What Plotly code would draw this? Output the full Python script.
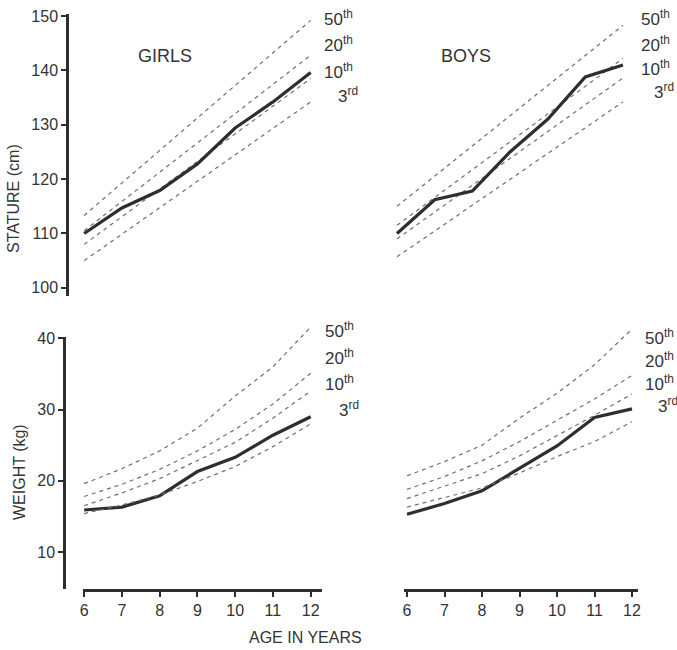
import plotly.graph_objects as go

W, H = 677, 650

# ---------------- data ----------------
ages = [6, 7, 8, 9, 10, 11, 12]
line_ages = [6, 12]

girls_stature = [110.0, 114.7, 117.9, 122.8, 129.4, 134.2, 139.6]
boys_stature = [110.0, 116.2, 117.8, 125.0, 131.0, 138.8, 141.0]

girls_stature_pct = {
    "50th": [113.3, 149.2],
    "20th": [110.5, 142.8],
    "10th": [108.0, 138.5],
    "3rd": [105.0, 134.2],
}
boys_stature_pct = {
    "50th": [115.0, 148.3],
    "20th": [111.5, 142.2],
    "10th": [109.0, 138.6],
    "3rd": [105.7, 134.2],
}

girls_weight = [15.9, 16.3, 17.9, 21.3, 23.3, 26.4, 29.0]
boys_weight = [15.3, 16.8, 18.6, 21.8, 24.9, 28.9, 30.1]

girls_weight_pct = {
    "50th": [19.6, 21.7, 24.2, 27.4, 31.9, 36.0, 41.6],
    "20th": [17.8, 19.5, 21.6, 24.2, 27.2, 30.8, 35.1],
    "10th": [16.5, 18.3, 20.3, 22.8, 25.4, 28.8, 32.6],
    "3rd": [15.4, 16.6, 18.0, 19.9, 22.0, 24.8, 28.0],
}
boys_weight_pct = {
    "50th": [20.7, 22.7, 25.0, 28.8, 32.3, 36.3, 41.3],
    "20th": [18.8, 20.6, 22.8, 25.5, 28.5, 31.5, 34.8],
    "10th": [17.5, 19.2, 21.0, 23.5, 26.3, 29.2, 32.2],
    "3rd": [16.3, 17.6, 19.0, 21.1, 23.4, 25.5, 28.3],
}

stature_ticks = [100, 110, 120, 130, 140, 150]
weight_ticks = [10, 20, 30, 40]
age_ticks = [6, 7, 8, 9, 10, 11, 12]
pct_labels = ["50<sup>th</sup>", "20<sup>th</sup>", "10<sup>th</sup>", "3<sup>rd</sup>"]

# ---------------- style ----------------
FONT = "Liberation Sans, Arial, sans-serif"
TXT = "#333333"
SOLID = "#2e2e2e"
DASH = "#707070"


def px(x):
    return x / W


def py(y):
    return 1 - y / H


fig = go.Figure()


def add_pct(xa, ya, pct, xs_pct):
    for name, vals in pct.items():
        fig.add_trace(go.Scatter(x=xs_pct, y=vals, mode="lines", xaxis=xa, yaxis=ya,
                                 line=dict(color=DASH, width=1.2, dash="4px,4px"),
                                 hoverinfo="skip", showlegend=False))


def add_meas(xa, ya, meas):
    fig.add_trace(go.Scatter(x=ages, y=meas, mode="lines", xaxis=xa, yaxis=ya,
                             line=dict(color=SOLID, width=3.2), showlegend=False))


add_pct("x", "y", girls_stature_pct, line_ages)
add_meas("x", "y", girls_stature)
add_pct("x2", "y2", boys_stature_pct, line_ages)
add_meas("x2", "y2", boys_stature)
# weight percentile curves go on taller hidden axes (same scale) so they can pass above 40 kg
add_pct("x5", "y5", girls_weight_pct, ages)
add_meas("x3", "y3", girls_weight)
add_pct("x6", "y6", boys_weight_pct, ages)
add_meas("x4", "y4", boys_weight)

top_dom = [py(296), py(14.4)]
BOT_Y0, BOT_Y1, BOT_YT = 589, 337, 316
w_lo, w_hi = 4.8, 40.2
bot_dom = [py(BOT_Y0), py(BOT_Y1)]
ext_dom = [py(BOT_Y0), py(BOT_YT)]
w_hi_ext = w_lo + (w_hi - w_lo) * (BOT_Y0 - BOT_YT) / (BOT_Y0 - BOT_Y1)

tickfont = dict(family=FONT, size=16, color=TXT)
hidden = dict(visible=False, automargin=False, showgrid=False, zeroline=False)

fig.update_layout(
    width=W, height=H,
    margin=dict(l=0, r=0, t=0, b=0, autoexpand=False),
    paper_bgcolor="white", plot_bgcolor="rgba(0,0,0,0)",
    showlegend=False,
    xaxis=dict(domain=[px(83), px(322)], range=[5.97, 12.3], anchor="y", **hidden),
    yaxis=dict(domain=top_dom, range=[98.5, 150.3], anchor="free", position=px(67),
               showline=True, linecolor=SOLID, linewidth=2.5, ticks="outside",
               ticklen=5, tickwidth=1.5, tickcolor=SOLID, tickvals=stature_ticks,
               tickfont=tickfont, showgrid=False, zeroline=False, ticklabelstandoff=0,
               automargin=False),
    xaxis2=dict(domain=[px(394), px(629)], range=[5.92, 12.16], anchor="y2", **hidden),
    yaxis2=dict(domain=top_dom, range=[98.5, 150.3], anchor="x2", **hidden),
    xaxis3=dict(domain=[px(83), px(322)], range=[5.97, 12.3], anchor="y3",
                showline=True, linecolor=SOLID, linewidth=2.5, ticks="outside",
                ticklen=5, tickwidth=1.5, tickcolor=SOLID, tickvals=age_ticks,
                tickfont=tickfont, showgrid=False, zeroline=False, automargin=False),
    yaxis3=dict(domain=bot_dom, range=[w_lo, w_hi], anchor="free", position=px(64),
                showline=True, linecolor=SOLID, linewidth=2.5, ticks="outside",
                ticklen=5, tickwidth=1.5, tickcolor=SOLID, tickvals=weight_ticks,
                tickfont=tickfont, showgrid=False, zeroline=False, ticklabelstandoff=0,
                automargin=False),
    xaxis4=dict(domain=[px(404), px(638)], range=[5.92, 12.16], anchor="y4",
                showline=True, linecolor=SOLID, linewidth=2.5, ticks="outside",
                ticklen=5, tickwidth=1.5, tickcolor=SOLID, tickvals=age_ticks,
                tickfont=tickfont, showgrid=False, zeroline=False, automargin=False),
    yaxis4=dict(domain=bot_dom, range=[w_lo, w_hi], anchor="x4", **hidden),
    xaxis5=dict(domain=[px(83), px(322)], range=[5.97, 12.3], anchor="y5", **hidden),
    yaxis5=dict(domain=ext_dom, range=[w_lo, w_hi_ext], anchor="x5", **hidden),
    xaxis6=dict(domain=[px(404), px(638)], range=[5.92, 12.16], anchor="y6", **hidden),
    yaxis6=dict(domain=ext_dom, range=[w_lo, w_hi_ext], anchor="x6", **hidden),
)

ann = []


def text(x, y, s, size, anchor="center", angle=0):
    ann.append(dict(x=px(x), y=py(y), xref="paper", yref="paper", text=s, showarrow=False,
                    xanchor=anchor, yanchor="middle", textangle=angle,
                    font=dict(family=FONT, size=size, color=TXT)))


text(165, 56, "GIRLS", 18)
text(466, 56, "BOYS", 18)
text(13, 199, "STATURE (cm)", 16, angle=-90)
text(19, 472, "WEIGHT (kg)", 16, angle=-90)
text(305, 637, "AGE IN YEARS", 16)

# percentile labels (left-anchored)
for lab, yy, xx in zip(pct_labels, [18, 44, 71, 95], [322, 322, 322, 336]):
    text(xx, yy, lab, 17, anchor="left")
for lab, yy, xx in zip(pct_labels, [18, 44, 68, 91], [639, 639, 639, 652]):
    text(xx, yy, lab, 17, anchor="left")
for lab, yy, xx in zip(pct_labels, [330, 357, 383, 409], [323, 323, 323, 337]):
    text(xx, yy, lab, 17, anchor="left")
for lab, yy, xx in zip(pct_labels, [337, 360, 383, 405], [643, 643, 643, 656]):
    text(xx, yy, lab, 17, anchor="left")

fig.update_layout(annotations=ann)
fig.write_html("out.html", config={"displayModeBar": False},
               post_script="document.body.style.margin='0';document.body.style.overflow='hidden';")
